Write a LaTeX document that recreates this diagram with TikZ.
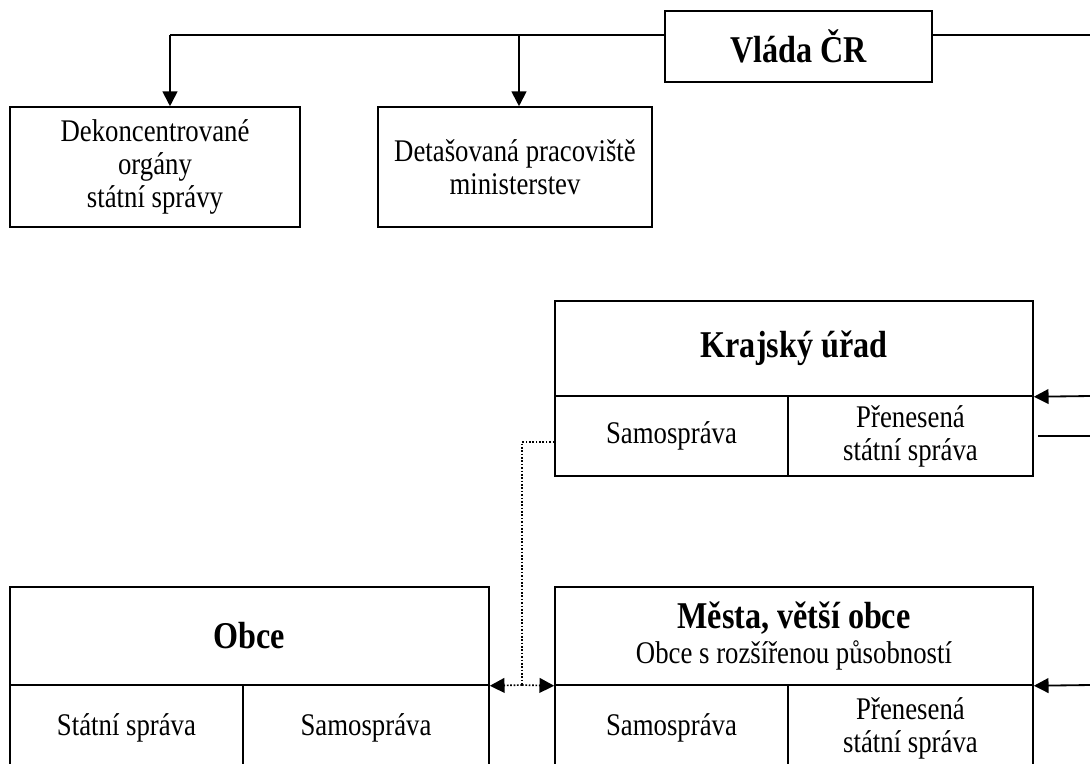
\documentclass[tikz,border=0pt]{standalone}
\usepackage{fontspec}
\setmainfont{Liberation Serif}[FakeStretch=0.85]
\usetikzlibrary{arrows.meta}
\newcommand{\titlefont}{\fontsize{26.9}{29}\selectfont\bfseries}
\tikzset{
    boxsize/.style 2 args={minimum width=#1*0.025cm, minimum height=#2*0.025cm},
    box/.style={draw, line width=1.1pt, align=center, inner sep=0pt,
        font=\fontsize{22.4}{23.5}\selectfont},
    titlebox/.style={box, font=\titlefont},
    conn/.style={line width=1.3pt},
    link/.style={conn, -{Triangle[length=10.5pt,width=10.5pt]}},
    dots/.style={line width=1.2pt, dash pattern=on 1.2pt off 1.2pt},
}
\begin{document}
\begin{tikzpicture}[x=0.025cm, y=-0.025cm]
        \clip (0,0) rectangle (1090,763);
        % government and its offices
        \node[titlebox, boxsize={267}{71}]  (vlada) at (798.5,46.5) {Vláda ČR};
        \node[box, boxsize={290}{120}]      (dekon) at (155,167)    {Dekoncentrované\\orgány\\státní správy};
        \node[box, boxsize={274}{120}]      (detas) at (515,167)    {Detašovaná pracoviště\\ministerstev};
        % regional office
        \node[titlebox, boxsize={478}{95}]  (kraj)     at (794,348.5)   {Krajský úřad};
        \node[box, boxsize={233}{80}]       (kraj-sam) at (671.5,436)   {Samospráva};
        \node[box, boxsize={245}{80}]       (kraj-pss) at (910.5,436)   {Přenesená\\státní správa};
        % municipalities
        \node[titlebox, boxsize={479}{98}]  (obce)     at (249.5,636)   {Obce};
        \node[box, boxsize={233}{86}]       (obce-ss)  at (126.5,728)   {Státní správa};
        \node[box, boxsize={246}{86}]       (obce-sam) at (366,728)     {Samospráva};
        \node[box, boxsize={478}{98}]       (mesta)    at (794,636)
            {{\titlefont Města, větší obce}\\[2pt]Obce s rozšířenou působností};
        \node[box, boxsize={233}{86}]       (mesta-sam) at (671.5,728)  {Samospráva};
        \node[box, boxsize={245}{86}]       (mesta-pss) at (910.5,728)  {Přenesená\\státní správa};
        % free ends and bends
        \coordinate (busL)    at (170,35);
        \coordinate (busM)    at (519,35);
        \coordinate (busR)    at (1090,35);
        \coordinate (inKraj)  at (1090,396);
        \coordinate (outKraj) at (1090,436);
        \coordinate (inMesta) at (1090,685);
        \coordinate (dotTurn) at (522,442);
        \coordinate (dotJoin) at (522,685);
        % government lines
        \draw[conn] (vlada.west |- busL) -- (busL);
        \draw[conn] (vlada.east |- busR) -- (busR);
        \draw[link] (busL) -- (busL |- dekon.north);
        \draw[link] (busM) -- (busM |- detas.north);
        % lines from the right
        \draw[link] (inKraj)  -- (kraj.south east);
        \draw[conn, shorten >=3pt] (outKraj) -- (kraj-pss.east);
        \draw[link] (inMesta) -- (mesta.south east);
        % dotted link between municipalities
        \draw[dots] (dotTurn -| kraj-sam.west) -- (dotTurn) -- (dotJoin);
        \draw[dots, -{Triangle[length=10.5pt,width=10.5pt]}] (dotJoin) -- (obce.south east);
        \draw[dots, -{Triangle[length=10.5pt,width=10.5pt]}] (dotJoin) -- (mesta.south west);
\end{tikzpicture}
\end{document}
